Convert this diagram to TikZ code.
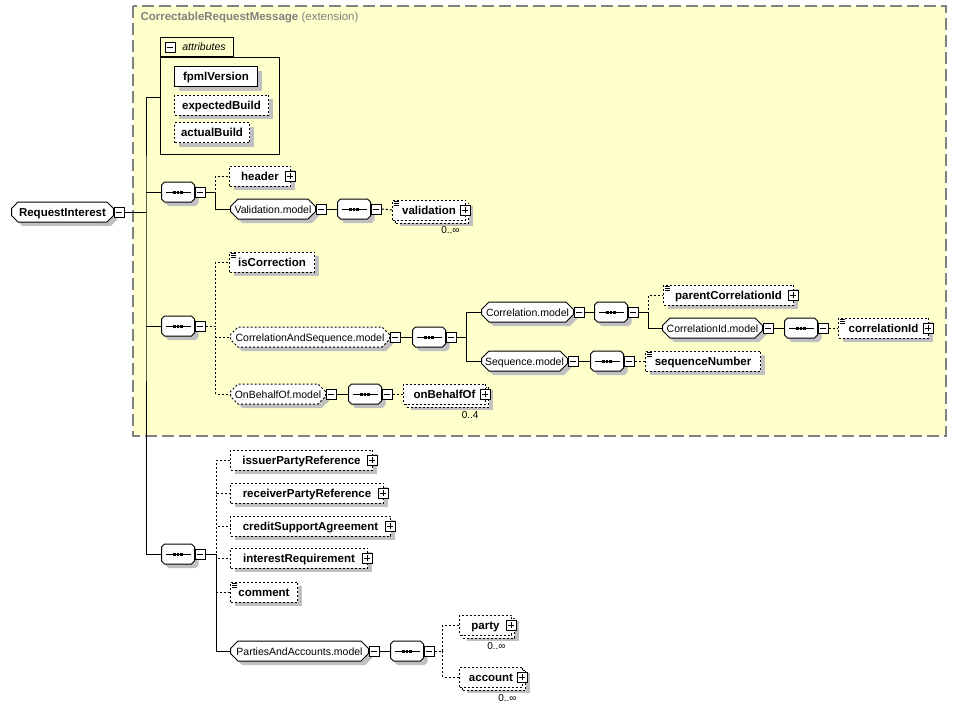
\documentclass[tikz,border=0pt]{standalone}
\usepackage{fontspec}
\setmainfont{Liberation Sans}
\usetikzlibrary{shapes.misc}

\definecolor{extfill}{RGB}{255,255,204}
\definecolor{extline}{RGB}{128,128,128}
\definecolor{shadowgray}{RGB}{192,192,192}

\tikzset{
  elfont/.style={font=\bfseries\fontsize{11.5}{14}\selectfont},
  grfont/.style={font=\fontsize{10.5}{13}\selectfont},
  shadowed/.style={preaction={draw=none, fill=shadowgray, transform canvas={shift={(4pt,-4pt)}}}},
  cut/.style={chamfered rectangle, chamfered rectangle ysep=#1},
  xbox/.style={draw, fill=white, rectangle, anchor=west, inner sep=0pt,
    text height=9pt, text depth=1pt,
    minimum height=20pt, minimum width=#1, elfont},
  elbox/.style={xbox=#1, shadowed},
  optbox/.style={elbox=#1, dash pattern=on 2pt off 2pt},
  multibox/.style={xbox=#1, dash pattern=on 2pt off 2pt,
    preaction={draw=none, fill=shadowgray, transform canvas={shift={(7pt,-6pt)}}},
    preaction={draw, fill=white, transform canvas={shift={(3pt,-3pt)}}}},
  grpbox/.style={cut=4pt, draw, fill=white, anchor=west, inner xsep=0pt, inner ysep=1pt,
    text height=9pt, text depth=1pt, minimum height=20pt,
    minimum width=#1, grfont, shadowed},
  optgrp/.style={grpbox=#1, dash pattern=on 2pt off 2pt},
  rootbox/.style={grpbox=#1, cut=3pt, inner ysep=2pt, elfont},
  seqbox/.style={cut=7pt, draw, fill=white, anchor=west, inner xsep=0pt, inner ysep=3pt,
    text height=0pt, text depth=0pt, minimum height=20pt,
    minimum width=33pt, shadowed,
    path picture={
      \draw ([xshift=4pt]path picture bounding box.west) -- ([xshift=-4pt]path picture bounding box.east);
      \foreach \d in {-3.5,0,3.5}
        \fill[black] ([xshift=\d pt]path picture bounding box.center) +(-1.2,-1.5) rectangle +(1.2,1.5);
    }},
  minbox/.style={draw, fill=white, rectangle, minimum size=10pt, inner sep=0pt,
    line width=0.8pt, anchor=west,
    preaction={draw=none, fill=black, transform canvas={shift={(1pt,-1pt)}}},
    path picture={\draw ([xshift=2pt]path picture bounding box.west) -- ([xshift=-2pt]path picture bounding box.east);}},
  plusbox/.style={draw, fill=white, rectangle, minimum size=10pt, inner sep=0pt,
    line width=0.8pt,
    preaction={draw=none, fill=black, transform canvas={shift={(1pt,-1pt)}}},
    path picture={\draw ([xshift=2pt]path picture bounding box.west) -- ([xshift=-2pt]path picture bounding box.east);
      \draw ([yshift=2pt]path picture bounding box.south) -- ([yshift=-2pt]path picture bounding box.north);}},
  mult/.style={font=\fontsize{10}{12}\selectfont, inner sep=0pt, anchor=north east},
  optline/.style={dash pattern=on 2pt off 2pt},
}

\begin{document}
\begin{tikzpicture}[x=1pt, y=-1pt, line width=1pt]
\useasboundingbox (0,0) rectangle (957,713);

% extension area
\draw[extline, fill=extfill, line width=1.3pt, dash pattern=on 12pt off 5pt] (133,6) rectangle (946,436);
\node[anchor=west, text=extline, font=\fontsize{11.5}{14}\selectfont, inner sep=0pt] (ext) at (140,18) {\textbf{CorrectableRequestMessage} (extension)};

% attributes
\node[draw, anchor=north west, minimum width=119pt, minimum height=97pt, inner sep=0pt] (attr) at (160,57) {};
\node[draw, anchor=south west, minimum width=73pt, minimum height=19pt, inner sep=0pt,
  font=\itshape\fontsize{10.5}{13}\selectfont] (attrtab) at (attr.north west) {\hspace*{14pt}attributes};
\node[minbox] (attrtab-m) at ([xshift=5pt]attrtab.west) {};
\node[elbox=83pt] (fpml) at (174,76.5) {fpmlVersion};
\node[optbox=94pt] (expBuild) at (174,105) {expectedBuild};
\node[optbox=75pt] (actBuild) at (174,132.5) {actualBuild};

% root
\node[rootbox=102pt] (root) at (11,212) {RequestInterest};

% header / validation
\node[seqbox] (seqA) at (161,192) {};
\node[optbox=61pt] (header) at (229,176) {header};
\node[grpbox=85pt] (valModel) at (230,209) {Validation.model};
\node[seqbox] (seqVal) at (337,209) {};
\node[multibox=73pt] (validation) at (392,210) {validation};

% correction, correlation, sequence
\node[seqbox] (seqB) at (161,326) {};
\node[optbox=85pt] (isCorr) at (229,262) {isCorrection};
\node[optgrp=159pt] (csModel) at (230,337) {CorrelationAndSequence.model};
\node[seqbox] (seqCS) at (412,337) {};
\node[grpbox=92pt] (corrModel) at (481,312) {Correlation.model};
\node[seqbox] (seqCorr) at (594,312) {};
\node[optbox=130pt] (parentId) at (663,295) {parentCorrelationId};
\node[grpbox=100pt] (cidModel) at (662,328) {CorrelationId.model};
\node[seqbox] (seqCid) at (784,328) {};
\node[optbox=90pt] (corrId) at (838,328) {correlationId};
\node[grpbox=86pt] (seqModel) at (481,361) {Sequence.model};
\node[seqbox] (seqSeq) at (590,361) {};
\node[optbox=115pt] (seqNum) at (645,361) {sequenceNumber};
\node[optgrp=95pt] (obModel) at (230,394) {OnBehalfOf.model};
\node[seqbox] (seqOB) at (348,394) {};
\node[multibox=82pt] (onBehalf) at (403,394) {onBehalfOf};

% own content
\node[seqbox] (seqC) at (161,554) {};
\node[optbox=142pt] (issuer) at (230,460) {issuerPartyReference};
\node[optbox=153pt] (receiver) at (230,493) {receiverPartyReference};
\node[optbox=160pt] (credit) at (230,526) {creditSupportAgreement};
\node[optbox=137pt] (interest) at (230,558) {interestRequirement};
\node[optbox=67pt] (comment) at (230,592) {comment};
\node[grpbox=138pt] (paModel) at (230,651) {PartiesAndAccounts.model};
\node[seqbox] (seqPA) at (390,651) {};
\node[multibox=52pt] (party) at (459,625) {party};
\node[multibox=63pt] (account) at (459,677) {account};

% collapse / expand buttons
\foreach \n in {root,seqA,valModel,seqVal,seqB,csModel,seqCS,corrModel,seqCorr,cidModel,seqCid,seqModel,seqSeq,obModel,seqOB,seqC,paModel,seqPA}
  \node[minbox] (\n-m) at (\n.east) {};
\foreach \n in {header,validation,parentId,corrId,onBehalf,issuer,receiver,credit,interest,party,account}
  \node[plusbox] (\n-p) at ([xshift=-1pt]\n.east) {};

% simple content marks
\foreach \n in {validation,isCorr,parentId,corrId,seqNum,comment}
  \foreach \k in {2,4,6}
    \draw[line width=0.6pt] ([xshift=2pt,yshift=-\k pt]\n.north west) -- +(5,0);

% occurrences
\node[mult] (validation-n) at ([xshift=-6pt,yshift=-6pt]validation.south east) {0..∞};
\node[mult] (onBehalf-n) at ([xshift=-7pt,yshift=-7pt]onBehalf.south east) {0..4};
\node[mult] (party-n) at ([xshift=-6pt,yshift=-7pt]party.south east) {0..∞};
\node[mult] (account-n) at ([xshift=-6pt,yshift=-7pt]account.south east) {0..∞};

% trunk
\coordinate (trunk) at (146,212);
\coordinate (attrjoin) at (160,97);
\draw (root-m.east) -- (trunk);
\draw (attrjoin) -| (trunk) |- (seqC.west);
\draw (trunk |- seqA) -- (seqA.west);
\draw (trunk |- seqB) -- (seqB.west);

% branches
\draw[optline] (seqA-m.east) -- ++(10,0) |- (header.west);
\draw (seqA-m.east) -- ++(10,0) |- (valModel.west);
\draw (valModel-m.east) -- (seqVal.west);
\draw[optline] (seqVal-m.east) -- (validation.west);

\foreach \c in {isCorr,csModel,obModel}
  \draw[optline] (seqB-m.east) -- ++(10,0) |- (\c.west);
\draw (csModel-m.east) -- (seqCS.west);
\foreach \c in {corrModel,seqModel}
  \draw (seqCS-m.east) -- ++(10,0) |- (\c.west);
\draw (corrModel-m.east) -- (seqCorr.west);
\draw[optline] (seqCorr-m.east) -- ++(10,0) |- (parentId.west);
\draw (seqCorr-m.east) -- ++(10,0) |- (cidModel.west);
\draw (cidModel-m.east) -- (seqCid.west);
\draw[optline] (seqCid-m.east) -- (corrId.west);
\draw (seqModel-m.east) -- (seqSeq.west);
\draw[optline] (seqSeq-m.east) -- (seqNum.west);
\draw (obModel-m.east) -- (seqOB.west);
\draw[optline] (seqOB-m.east) -- (onBehalf.west);

\foreach \c in {issuer,receiver,credit,interest,comment}
  \draw[optline] (seqC-m.east) -- ++(11,0) |- (\c.west);
\draw (seqC-m.east) -- ++(11,0) |- (paModel.west);
\draw (paModel-m.east) -- (seqPA.west);
\foreach \c in {party,account}
  \draw[optline] (seqPA-m.east) -- ++(8,0) |- (\c.west);
\end{tikzpicture}
\end{document}
